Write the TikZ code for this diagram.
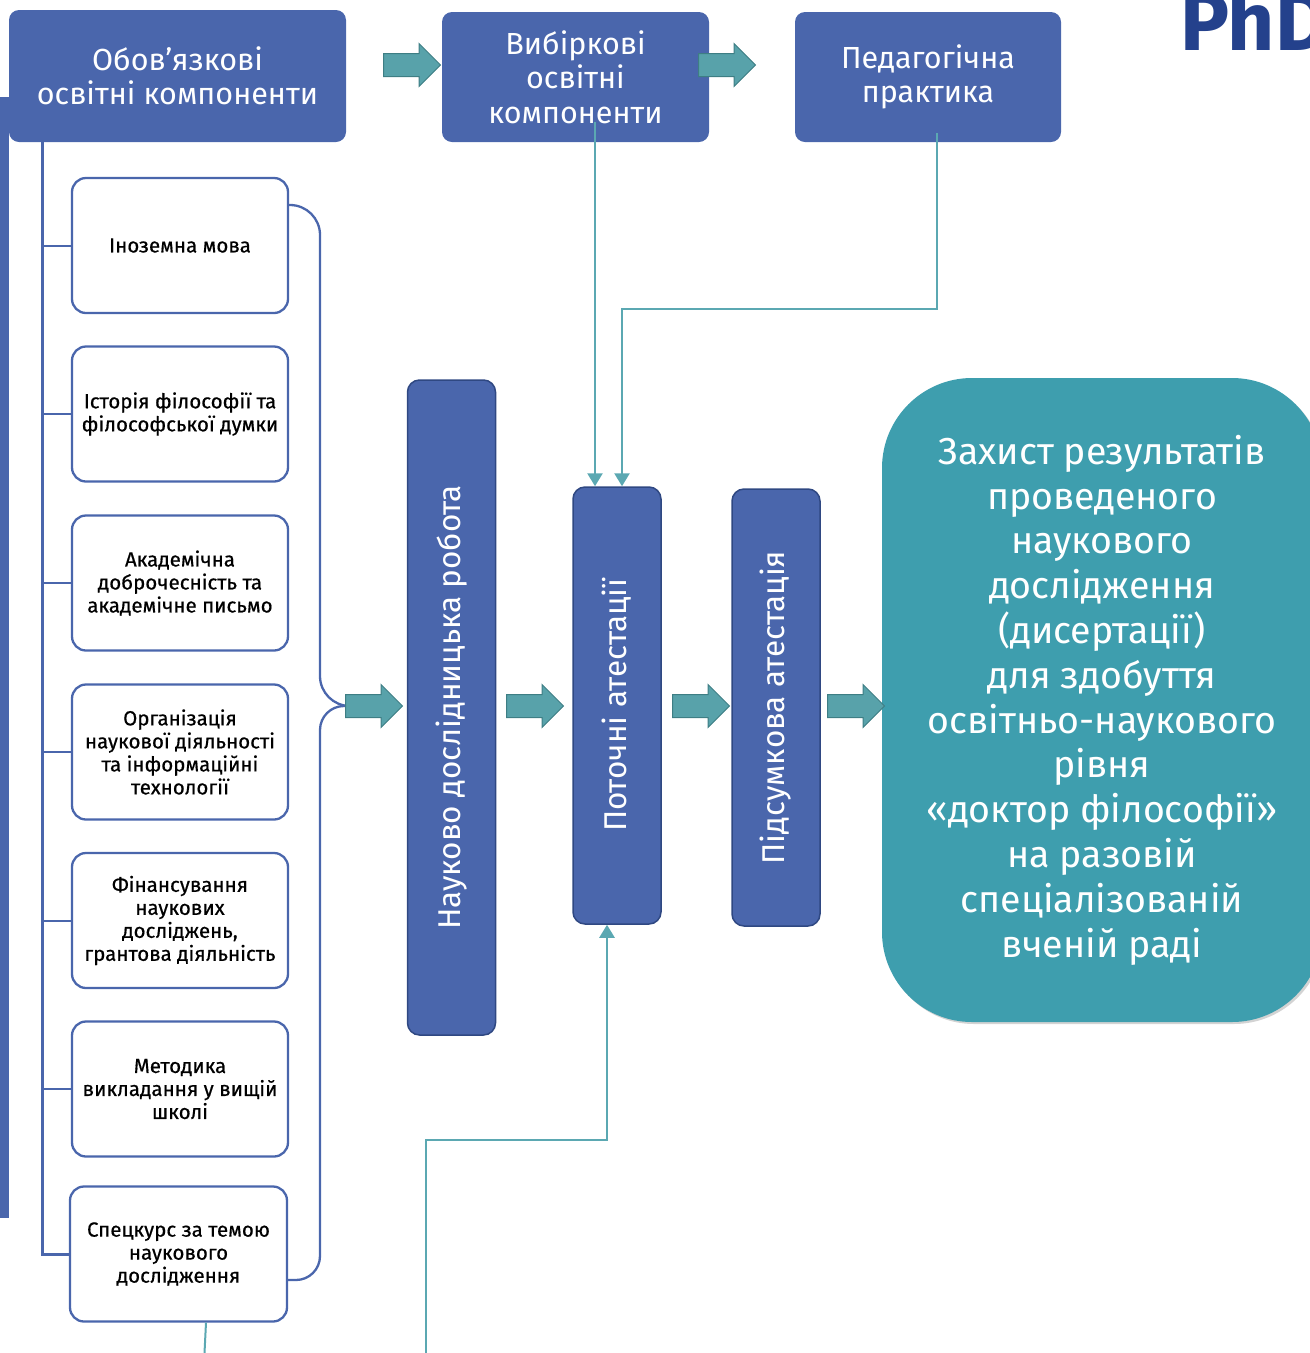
\documentclass[tikz,border=0pt]{standalone}
\usepackage{fontspec}
\setmainfont{Fira Sans}
\newfontfamily\medfont{Fira Sans}[FakeBold=0.6]
\usetikzlibrary{arrows.meta,shapes.arrows,shadows,calc}
\definecolor{myblue}{RGB}{74,102,172}
\definecolor{darkblue}{RGB}{47,72,130}
\definecolor{tealbox}{RGB}{62,158,174}
\definecolor{arrfill}{RGB}{88,162,170}
\definecolor{arrdraw}{RGB}{62,126,132}
\definecolor{conncol}{RGB}{91,168,178}
\definecolor{phdcol}{RGB}{36,65,140}
\tikzset{
  topbox/.style={fill=myblue, rounded corners=10pt, text=white, align=center, inner sep=0pt, font=\fontsize{30.5}{34.5}\selectfont},
  smallbox/.style={draw=myblue, line width=2.3pt, fill=white, rounded corners=14pt, align=center, minimum width=216pt, minimum height=135pt, inner sep=0pt, font=\medfont\fontsize{20.5}{23}\selectfont},
  vbox/.style={fill=myblue, draw=darkblue, line width=1.5pt, rounded corners=12pt, minimum width=88pt, inner sep=0pt},
  vtext/.style={text=white, rotate=90, inner sep=0pt, font=\fontsize{31.5}{34}\selectfont},
  blockarrow/.style={single arrow, fill=arrfill, draw=arrdraw, line width=1pt, minimum height=57pt, minimum width=42pt, single arrow head extend=10pt, inner sep=0pt, anchor=tail},
  tree/.style={draw=myblue, line width=3pt},
  branch/.style={draw=myblue, line width=2pt},
  brace/.style={draw=myblue, line width=2.3pt},
  conn/.style={draw=conncol, line width=2.5pt},
  connarrow/.style={conn, -{Triangle[width=15pt,length=13pt]}},
}
\newcommand{\shaft}{\rule{0pt}{22pt}}
\begin{document}
\begin{tikzpicture}[x=1pt,y=-1pt]
\useasboundingbox (0,0) rectangle (1310,1353);
% left bar
\fill[myblue] (0,97) rectangle (9,1218);
% PhD title
\node[anchor=base west, inner sep=0pt, text=phdcol, font=\fontsize{82}{82}\selectfont\bfseries] (phd) at (1180,50) {PhD};

% top boxes
\node[topbox, minimum width=337pt, minimum height=132pt] (oblig) at (177.5,76) {Обов’язкові\\освітні компоненти};
\node[topbox, minimum width=267pt, minimum height=130pt] (vybir) at (575.5,77) {Вибіркові\\освітні\\компоненти};
\node[topbox, minimum width=266pt, minimum height=130pt] (pedag) at (928,77) {Педагогічна\\практика};
\node[blockarrow] (ta1) at (383,65) {\shaft};
\node[blockarrow] (ta2) at (698,65) {\shaft};

% small boxes
\node[smallbox] (s1) at (180,245.5) {Іноземна мова};
\node[smallbox] (s2) at (180,414) {Історія філософії та\\філософської думки};
\node[smallbox] (s3) at (180,583) {Академічна\\доброчесність та\\академічне письмо};
\node[smallbox] (s4) at (180,752) {Організація\\наукової діяльності\\та інформаційні\\технології};
\node[smallbox] (s5) at (180,920.5) {Фінансування\\наукових\\досліджень,\\грантова діяльність};
\node[smallbox] (s6) at (180,1089) {Методика\\викладання у вищій\\школі};
\node[smallbox, minimum width=217pt] (s7) at (178.5,1254) {Спецкурс за темою\\наукового\\дослідження};

% tree
\draw[tree] ([xshift=34pt]oblig.south west) |- (s7.west);
\foreach \s in {s1,s2,s3,s4,s5,s6}{
  \draw[branch] (\s.west) -- ++(-29,0);
}

% vertical boxes
\node[vbox, minimum height=655pt] (nauk) at (451.5,707.5) {};
\node[vtext] (naukt) at (nauk.center) {Науково дослідницька робота};
\node[vbox, minimum height=437pt] (potoch) at (617,705.5) {};
\node[vtext] (potocht) at (potoch.center) {Поточні атестації};
\node[vbox, minimum height=437pt] (pidsum) at (776,707.5) {};
\node[vtext] (pidsumt) at (pidsum.center) {Підсумкова атестація};

% big box
\node[fill=tealbox, rounded corners=90pt, minimum width=440pt, minimum height=644pt, inner sep=0pt,
  drop shadow={shadow xshift=2pt, shadow yshift=-2pt, opacity=0.35},
  text=white, align=center, font=\fontsize{37.5}{44.8}\selectfont] (zakh) at (1102,700)
  {Захист результатів\\проведеного\\наукового\\дослідження\\(дисертації)\\для здобуття\\освітньо-наукового\\рівня\\«доктор філософії»\\на разовій\\спеціалізованій\\вченій раді};

% brace
\coordinate (bj) at (345,706);
\draw[brace, rounded corners=30pt] ([yshift=40.5pt]s1.east) -- (320,205) -- (320,706) -- (bj);
\draw[brace, rounded corners=24pt] (bj) -- (320,706) -- (320,1280) -- ([yshift=-26pt]s7.east);
\node[blockarrow] (ba1) at (bj) {\shaft};

\node[blockarrow] (ba2) at (506,706) {\shaft};
\node[blockarrow] (ba3) at (672,706) {\shaft};
\node[blockarrow] (ba4) at (827,706) {\shaft};

% teal connectors
\draw[connarrow] ([xshift=19.5pt,yshift=20pt]vybir.south) -- ([xshift=-22pt]potoch.north);
\draw[connarrow] ([xshift=9pt,yshift=9pt]pedag.south) -- ++(0,176) -| ([xshift=5pt]potoch.north);
\coordinate (cbot) at (426,1353);
\draw[connarrow] (cbot) -- ++(0,-213) -| ([xshift=-10pt]potoch.south);
\coordinate (dbot) at (204.5,1353);
\draw[conn, line width=2pt] ([xshift=27.5pt]s7.south) -- (dbot);
\end{tikzpicture}
\end{document}
